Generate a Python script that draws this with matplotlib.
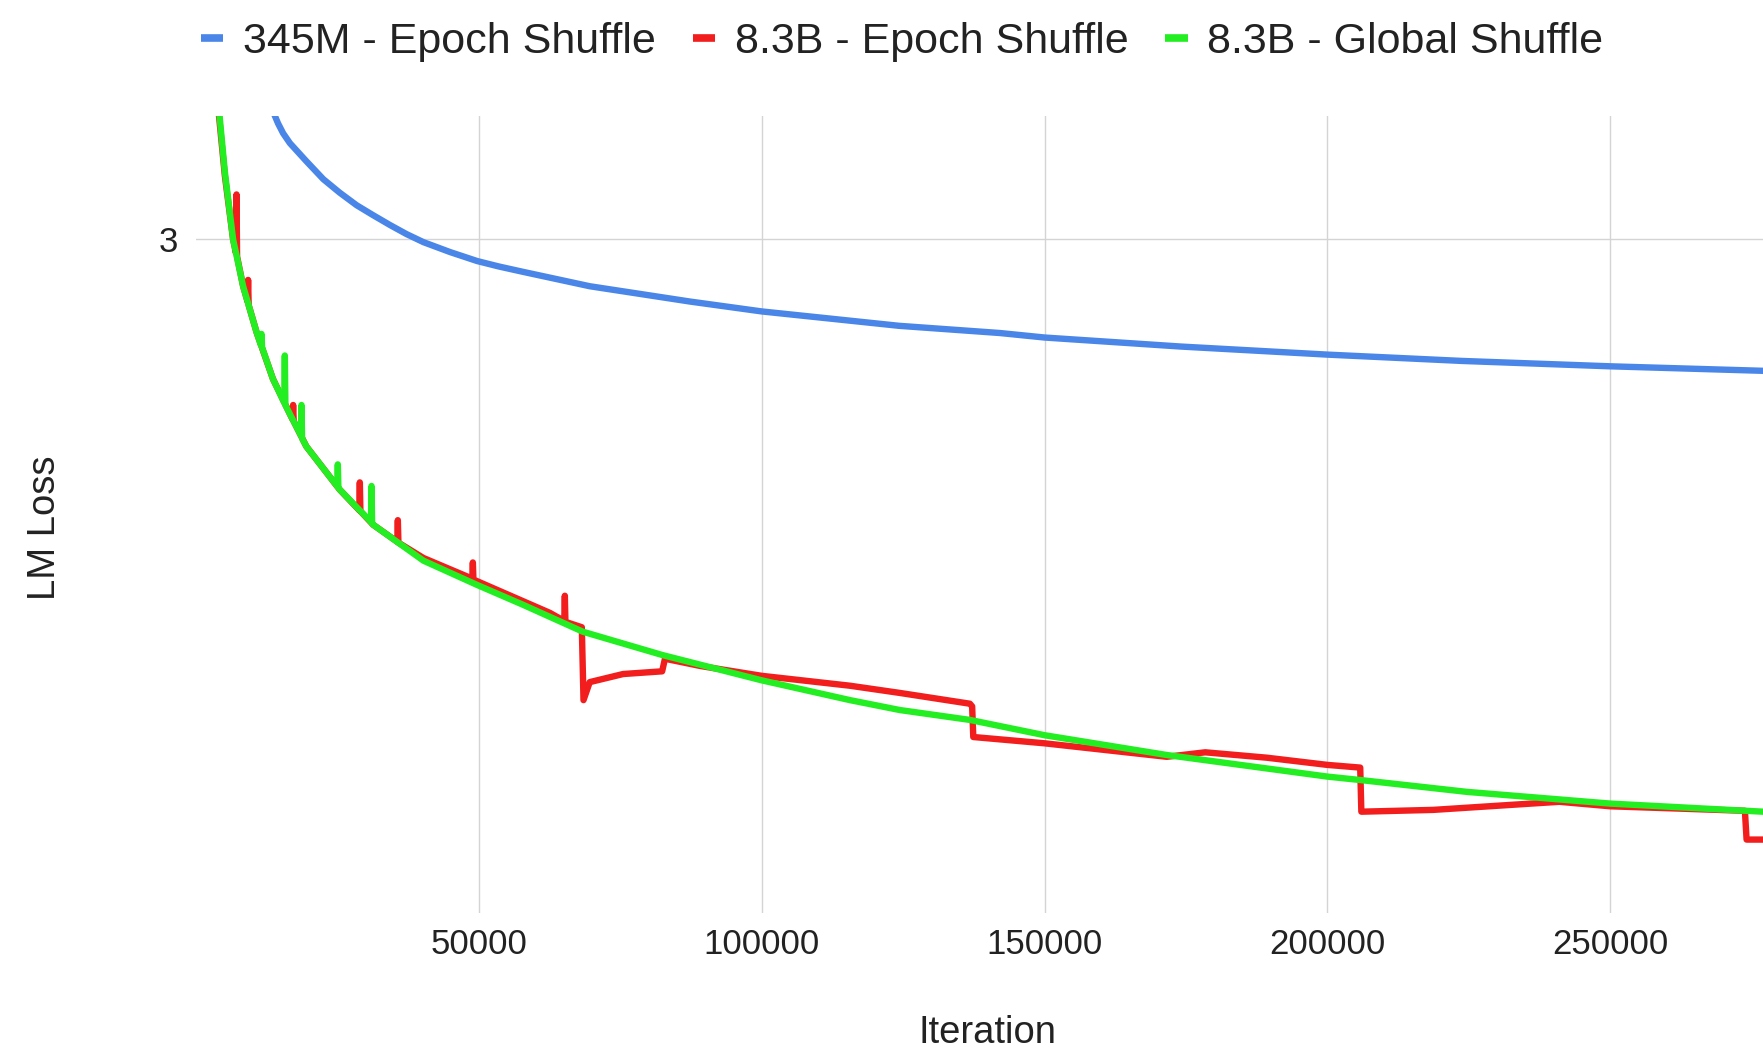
"""
lm_loss_shuffle.py
training LM loss vs iteration, epoch shuffle vs global shuffle
"""
import matplotlib
matplotlib.use("Agg")
import matplotlib.pyplot as plt
from matplotlib.lines import Line2D

# 345M - epoch shuffle
blue_x = [13300, 13700, 14500, 15400, 16600, 19500, 22500, 25400, 28400, 31300,
          34300, 37200, 40200, 44900, 49700, 53500, 57800, 69600, 87300, 100000,
          124300, 142100, 150000, 174000, 200000, 223700, 250000, 277000]
blue_y = [3.147, 3.140, 3.128, 3.117, 3.106, 3.086, 3.066, 3.051, 3.037, 3.026,
          3.015, 3.005, 2.996, 2.985, 2.975, 2.969, 2.963, 2.947, 2.930, 2.919,
          2.903, 2.895, 2.890, 2.880, 2.871, 2.864, 2.858, 2.853]

# 8.3B - epoch shuffle
red_x = [3700, 5100, 6560, 7060, 7160, 7260, 8330, 9110, 9210, 9310,
         10700, 13600, 16600, 17070, 17170, 17270, 19500, 25400, 28860, 28960,
         29060, 31300, 35580, 35680, 35780, 40200, 48840, 48940, 49040, 62550,
         65100, 65200, 65300, 68200, 68500, 69600, 75500, 82400, 82900, 89100,
         100000, 115600, 124400, 136800, 137200, 137400, 150000, 171600, 178400, 189300,
         200000, 205800, 206000, 218700, 233500, 241000, 250000, 273800, 274100, 277000]
red_y = [3.160, 3.070, 2.999, 2.984, 3.049, 2.980, 2.947, 2.930, 2.954, 2.926,
         2.896, 2.844, 2.805, 2.799, 2.815, 2.797, 2.769, 2.721, 2.698, 2.729,
         2.697, 2.682, 2.663, 2.687, 2.662, 2.645, 2.622, 2.640, 2.621, 2.584,
         2.575, 2.603, 2.574, 2.568, 2.487, 2.507, 2.516, 2.519, 2.533, 2.525,
         2.514, 2.503, 2.495, 2.483, 2.480, 2.446, 2.439, 2.424, 2.429, 2.423,
         2.415, 2.412, 2.363, 2.365, 2.371, 2.374, 2.369, 2.364, 2.332, 2.332]

# 8.3B - global shuffle
green_x = [3900, 5100, 6560, 8330, 10700, 11480, 11580, 11680, 13600, 15600,
           15700, 15800, 16600, 18550, 18650, 18750, 19500, 24970, 25070, 25170,
           25400, 30930, 31030, 31130, 31300, 40200, 49700, 57800, 68400, 82500,
           100000, 115600, 124400, 136800, 150000, 171600, 200000, 206100, 224700, 250000,
           277000]
green_y = [3.154, 3.074, 2.999, 2.947, 2.896, 2.8815, 2.894, 2.879, 2.844, 2.8175,
           2.870, 2.815, 2.805, 2.781, 2.815, 2.778, 2.769, 2.7245, 2.749, 2.7232,
           2.721, 2.685, 2.725, 2.683, 2.682, 2.642, 2.615, 2.593, 2.563, 2.537,
           2.509, 2.487, 2.476, 2.465, 2.448, 2.426, 2.402, 2.398, 2.385, 2.372,
           2.363]

x_ticks = [50000, 100000, 150000, 200000, 250000]
y_ticks = [3]
labels = ["345M - Epoch Shuffle", "8.3B - Epoch Shuffle", "8.3B - Global Shuffle"]
colors = ["#4a86e8", "#f21d1d", "#22ee22"]

plt.rcParams["font.family"] = ["Liberation Sans", "DejaVu Sans"]
text_color = "#222222"

W, H = 1763, 1053
fig = plt.figure(figsize=(W / 100, H / 100), dpi=100)
ax = fig.add_axes([196 / W, 1 - 913 / H, 1 - 196 / W, (913 - 116) / H])

lw = 4.6
ax.plot(blue_x, blue_y, color=colors[0], lw=lw)
ax.plot(red_x, red_y, color=colors[1], lw=lw)
ax.plot(green_x, green_y, color=colors[2], lw=lw)

ax.set_xlim(0, 277000)
ax.set_ylim(2.2504, 3.1362)
ax.set_xticks(x_ticks)
ax.set_xticklabels([str(v) for v in x_ticks])
ax.set_yticks(y_ticks)
ax.set_yticklabels([str(v) for v in y_ticks])
ax.grid(True, color="#d4d4d4", lw=1.0)
ax.set_axisbelow(True)
for s in ax.spines.values():
    s.set_visible(False)
ax.tick_params(axis="both", length=0, labelsize=25, colors=text_color)
ax.tick_params(axis="x", pad=11)
ax.tick_params(axis="y", pad=13)

ax.set_xlabel("Iteration", fontsize=27.5, color=text_color)
ax.set_ylabel("LM Loss", fontsize=27.5, color=text_color)
ax.xaxis.set_label_coords(0.505, -0.150)
ax.xaxis.label.set_verticalalignment("center")
ax.yaxis.set_label_coords(-0.0964, 0.483)
ax.yaxis.label.set_verticalalignment("center")

handles = [Line2D([0], [0], color=c, lw=5.5, solid_capstyle="butt") for c in colors]
fig.legend(handles, labels, loc="center", bbox_to_anchor=(0.5117, 1 - 42 / H),
           ncol=3, frameon=False, fontsize=31, handlelength=0.52,
           handletextpad=0.45, columnspacing=0.86, labelcolor=text_color,
           borderaxespad=0, borderpad=0)

fig.savefig("out.png", dpi=100)
